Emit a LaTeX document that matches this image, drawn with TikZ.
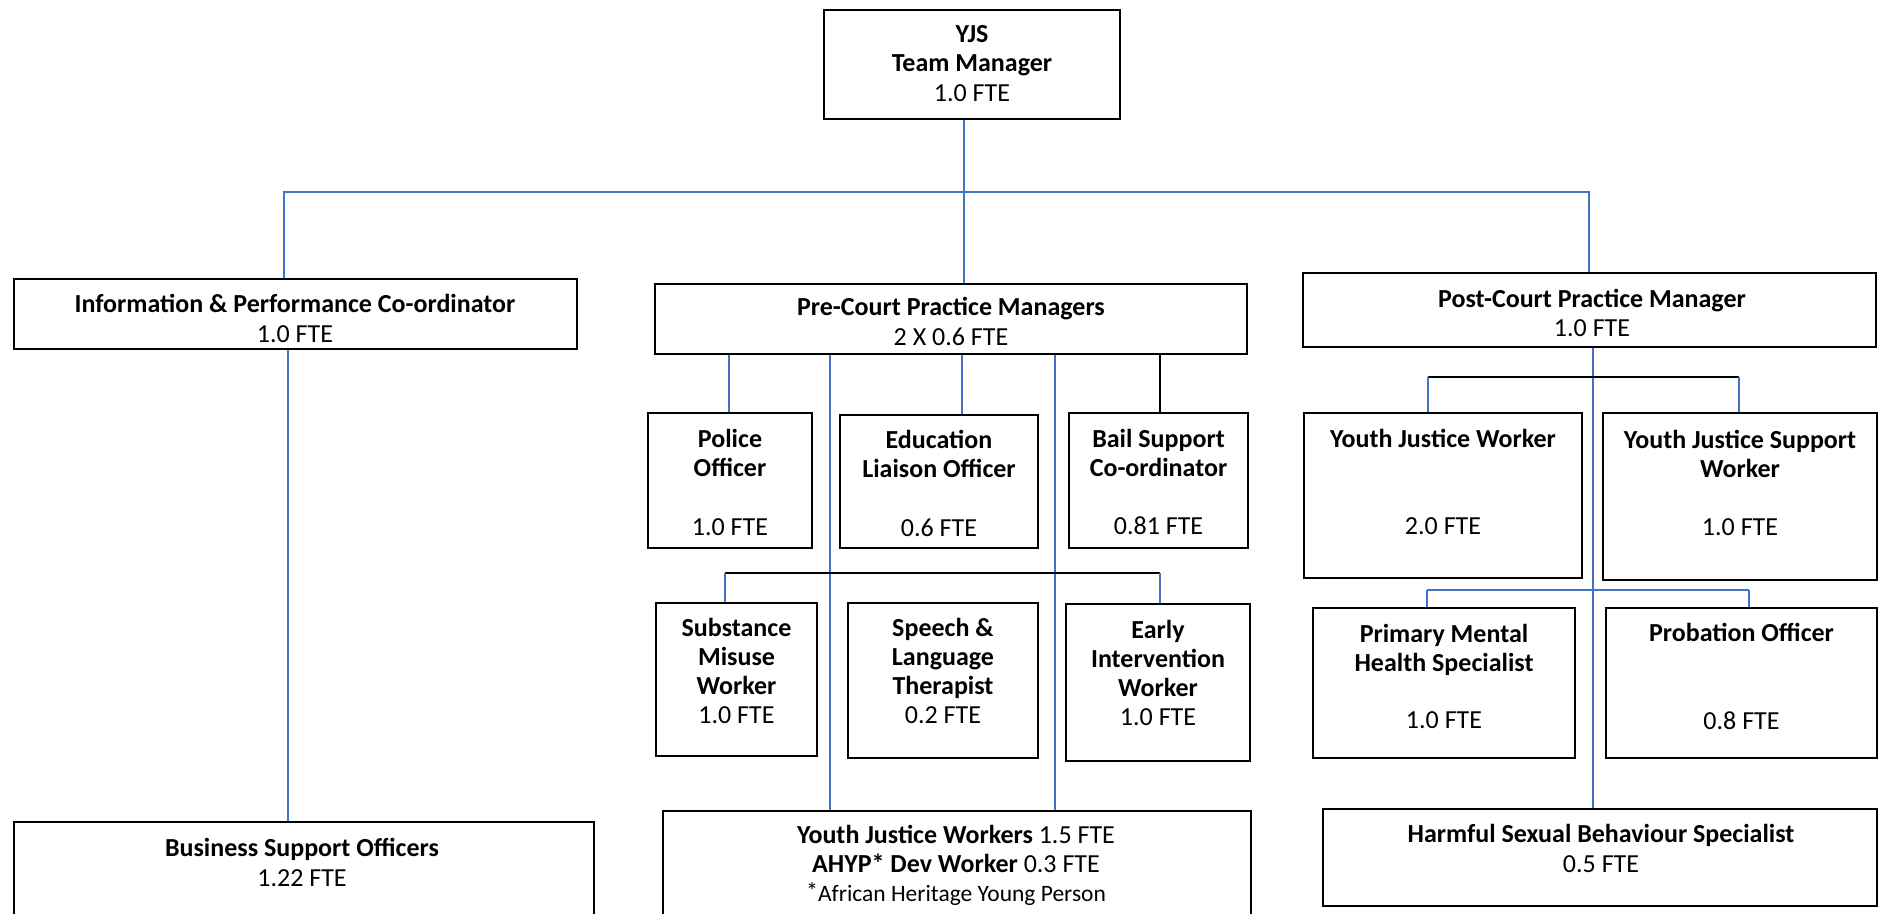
\documentclass[tikz,border=0pt]{standalone}
\usepackage{fontspec}
\setmainfont{Carlito}
\definecolor{lineblue}{HTML}{4472C4}
\begin{document}
\begin{tikzpicture}[x=1pt,y=-1pt,
  box/.style={draw=black, line width=1.5pt, inner sep=0pt},
  txt/.style={align=center, font=\fontsize{26}{29.3}\selectfont, inner sep=0pt},
  blu/.style={draw=lineblue, line width=1.1pt},
  blk/.style={draw=black, line width=1.4pt}]
\useasboundingbox (0,0) rectangle (1879,913);
\clip (0,0) rectangle (1879,913);

% boxes
\node[box, minimum width=296pt, minimum height=109pt] (tm) at (972,64.5) {};
\node[box, minimum width=563pt, minimum height=70pt] (info) at (295.5,314) {};
\node[box, minimum width=592pt, minimum height=70pt] (pre) at (951,319) {};
\node[box, minimum width=573pt, minimum height=74pt] (post) at (1589.5,310) {};
\node[box, minimum width=164pt, minimum height=135pt] (police) at (730,480.5) {};
\node[box, minimum width=198pt, minimum height=133pt] (edu) at (939,481.5) {};
\node[box, minimum width=179pt, minimum height=135pt] (bail) at (1158.5,480.5) {};
\node[box, minimum width=161pt, minimum height=153pt] (subst) at (736.5,679.5) {};
\node[box, minimum width=190pt, minimum height=155pt] (speech) at (943,680.5) {};
\node[box, minimum width=184pt, minimum height=157pt] (early) at (1158,682.5) {};
\node[box, minimum width=278pt, minimum height=165pt] (yjw) at (1443,495.5) {};
\node[box, minimum width=274pt, minimum height=167pt] (yjsw) at (1740,496.5) {};
\node[box, minimum width=262pt, minimum height=150pt] (pmh) at (1444,683) {};
\node[box, minimum width=271pt, minimum height=150pt] (prob) at (1741.5,683) {};
\node[box, minimum width=580pt, minimum height=118pt] (bso) at (304,881) {};
\node[box, minimum width=588pt, minimum height=129pt] (yjws) at (957,875.5) {};
\node[box, minimum width=554pt, minimum height=97pt] (hsb) at (1600,857.5) {};

% texts
\node[txt] (tm-t) at (972,63.5) {\textbf{YJS}\\\textbf{Team Manager}\\1.0 FTE};
\node[txt] (info-t) at (295,318.5) {\textbf{Information \& Performance Co-ordinator}\\1.0 FTE};
\node[txt] (pre-t) at (951,321.5) {\textbf{Pre-Court Practice Managers}\\2 X 0.6 FTE};
\node[txt] (post-t) at (1592,313) {\textbf{Post-Court Practice Manager}\\1.0 FTE};
\node[txt] (police-t) at (730,482.5) {\textbf{Police}\\\textbf{Officer}\\[29.3pt]1.0 FTE};
\node[txt] (edu-t) at (939,483.5) {\textbf{Education}\\\textbf{Liaison Officer}\\[29.3pt]0.6 FTE};
\node[txt] (bail-t) at (1158.5,482) {\textbf{Bail Support}\\\textbf{Co-ordinator}\\[29.3pt]0.81 FTE};
\node[txt] (subst-t) at (736.5,671) {\textbf{Substance}\\\textbf{Misuse}\\\textbf{Worker}\\1.0 FTE};
\node[txt] (speech-t) at (943,671) {\textbf{Speech \&}\\\textbf{Language}\\\textbf{Therapist}\\0.2 FTE};
\node[txt] (early-t) at (1158,673) {\textbf{Early}\\\textbf{Intervention}\\\textbf{Worker}\\1.0 FTE};
\node[txt] (yjw-t) at (1443,482) {\textbf{Youth Justice Worker}\\[58.6pt]2.0 FTE};
\node[txt] (yjsw-t) at (1740,483) {\textbf{Youth Justice Support}\\\textbf{Worker}\\[29.3pt]1.0 FTE};
\node[txt] (pmh-t) at (1444,676.5) {\textbf{Primary Mental}\\\textbf{Health Specialist}\\[28pt]1.0 FTE};
\node[txt] (prob-t) at (1741.5,676.5) {\textbf{Probation Officer}\\[58pt]0.8 FTE};
\node[txt] (bso-t) at (302,862.5) {\textbf{Business Support Officers}\\1.22 FTE};
\node[txt] (yjws-t) at (956,865.5) {\textbf{Youth Justice Workers} 1.5 FTE\\\textbf{AHYP* Dev Worker} 0.3 FTE\\{\fontsize{24}{29.3}\selectfont\raisebox{2pt}{*}\fontsize{23.5}{29.3}\selectfont African Heritage Young Person}};
\node[txt] (hsb-t) at (1601,848.5) {\textbf{Harmful Sexual Behaviour Specialist}\\0.5 FTE};

% hub coordinates
\coordinate (hl) at (284,192);
\coordinate (hc) at (964,192);
\coordinate (hr) at (1589,192);
\coordinate (p1) at (729,0);
\coordinate (p2) at (830,0);
\coordinate (p3) at (962,0);
\coordinate (p4) at (1055,0);
\coordinate (p5) at (1160,0);
\coordinate (r2l) at (725,573);
\coordinate (r2r) at (1160,573);
\coordinate (q1) at (1593,0);
\coordinate (ql) at (1428,377);
\coordinate (qr) at (1739,377);
\coordinate (sl) at (1427,590);
\coordinate (sr) at (1749,590);
\coordinate (ib) at (288,0);

% connectors
\draw[blu] (hc |- tm.south) -- (hc |- pre.north);
\draw[blu] (hl |- info.north) -- (hl) -- (hr) -- (hr |- post.north);
\draw[blu] (ib |- info.south) -- (ib |- bso.north);
\draw[blu] (p1 |- pre.south) -- (p1 |- police.north);
\draw[blu] (p2 |- pre.south) -- (p2 |- yjws.north);
\draw[blu] (p3 |- pre.south) -- (p3 |- edu.north);
\draw[blu] (p4 |- pre.south) -- (p4 |- yjws.north);
\draw[blk] (p5 |- pre.south) -- (p5 |- bail.north);
\draw[blk] (r2l) -- (r2r);
\draw[blu] (r2l) -- (r2l |- subst.north);
\draw[blu] (r2r) -- (r2r |- early.north);
\draw[blu] (q1 |- post.south) -- (q1 |- hsb.north);
\draw[blk] (ql) -- (qr);
\draw[blu] (ql) -- (ql |- yjw.north);
\draw[blu] (qr) -- (qr |- yjsw.north);
\draw[blu] (sl) -- (sr);
\draw[blu] (sl) -- (sl |- pmh.north);
\draw[blu] (sr) -- (sr |- prob.north);
\end{tikzpicture}
\end{document}
